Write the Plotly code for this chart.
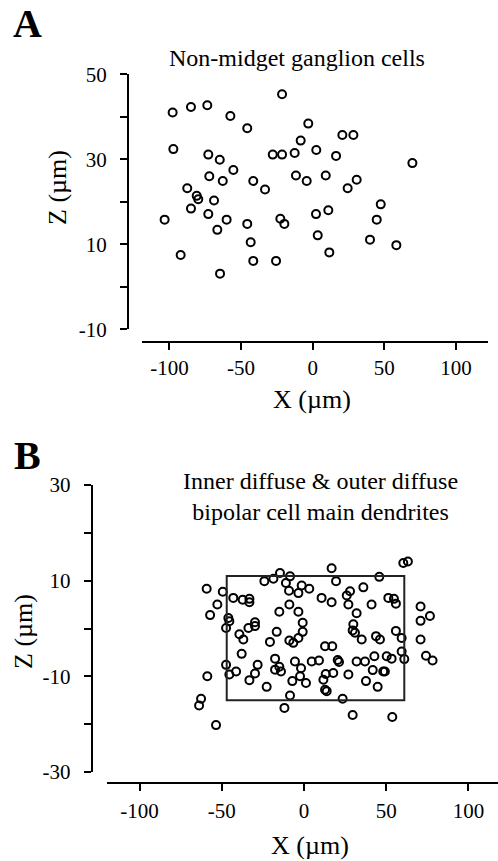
import plotly.graph_objects as go

W, H = 498, 861

# ---------------- Data ----------------
# Panel A: Non-midget ganglion cells
A_x = [-97.8, -85.0, -73.6, -57.5, -45.7, -21.4, -3.1, -8.4, 20.7, 28.4,
       -97.3, -72.9, -64.9, -55.4, -27.9, -21.4, -12.6, 2.5, 16.3, 69.6,
       -72.2, -62.8, -41.5, -33.3, -11.7, -4.2, 9.1, 24.4, 30.7,
       -87.6, -81.0, -79.9, -68.9, -85.0, -72.9, -103.4, -60.1, -66.6, -45.7,
       -22.6, -19.8, 2.3, 10.9, 47.5, 44.7, -43.3, 3.5, 40.0, 58.4,
       -92.2, 11.6, -41.5, -25.6, -64.7]
A_z = [41.0, 42.3, 42.7, 40.2, 37.3, 45.3, 38.4, 34.4, 35.7, 35.7,
       32.4, 31.1, 29.9, 27.5, 31.1, 31.1, 31.5, 32.2, 30.8, 29.1,
       26.0, 24.9, 24.9, 22.9, 26.2, 24.9, 26.2, 23.2, 25.2,
       23.2, 21.4, 20.6, 20.3, 18.4, 17.1, 15.8, 15.8, 13.4, 14.8,
       16.0, 14.8, 17.1, 18.0, 19.4, 15.8, 10.5, 12.1, 11.1, 9.8,
       7.5, 8.1, 6.1, 6.1, 3.1]

# Panel B: Inner diffuse & outer diffuse bipolar cell main dendrites
B_x = [60.4, 63.2, 16.8, -14.6, -8.5, -18.6, -24.1, 45.8, 19.5, -11.0,
       -1.4, 3.2, -9.1, -3.4, -59.2, -49.4, 36.1, 28.0, 26.0, 10.7,
       -43.0, -37.3, -33.2, -33.2, 16.8, 27.0, 41.1, 51.3, 54.7, 55.9,
       -52.7, -57.1, -8.9, -15.0, -3.4, 32.0, 70.9, 76.6, 70.9, -46.0,
       -45.4, -29.8, -29.8, -0.8, 30.0, 29.6, -47.4, -33.8, -16.6, -0.8,
       -39.3, -36.9, 55.9, 31.0, 43.8, 46.2, 35.1, 59.4, 70.9, -20.7,
       -8.9, -6.5, -3.4, 12.8, 17.2, -37.9, 59.4, 42.8, 50.3, 53.3,
       61.0, 74.2, 78.2, -17.6, -5.5, 4.7, 9.1, 20.5, 21.3, 32.0,
       37.1, -47.4, -28.2, -15.0, -17.6, -14.0, -1.8, -41.3, -45.4, -29.8,
       41.8, 48.2, 49.2, 13.2, 17.8, 27.0, -2.4, -58.8, -33.2, -7.1,
       1.2, 11.8, 37.7, -22.7, 12.8, 13.8, 44.8, -8.5, 23.5, -62.6,
       -63.8, -11.9, 29.6, 53.7, -53.5]
B_z = [13.7, 14.0, 12.6, 11.6, 10.9, 10.4, 9.9, 10.8, 9.9, 9.5,
       9.0, 8.3, 7.9, 7.4, 8.3, 7.7, 8.6, 7.8, 6.9, 6.4,
       6.4, 6.0, 6.2, 5.5, 5.5, 5.0, 5.0, 6.4, 6.2, 5.2,
       5.0, 2.8, 5.0, 3.5, 3.5, 3.2, 4.6, 2.6, 1.6, 2.2,
       1.5, 1.3, 0.5, 1.2, 0.9, -0.4, 0.1, 0.1, -0.7, -0.7,
       -1.2, -2.3, -0.5, -0.9, -1.6, -2.3, -2.3, -2.0, -2.3, -2.8,
       -2.5, -3.0, -2.0, -3.7, -3.7, -5.3, -4.8, -5.8, -5.8, -6.3,
       -6.4, -5.7, -6.7, -6.3, -6.9, -6.9, -6.7, -6.6, -7.0, -6.9,
       -6.9, -7.6, -7.6, -8.0, -8.6, -9.0, -8.3, -9.0, -9.6, -9.4,
       -8.7, -9.0, -9.0, -9.5, -9.3, -9.6, -10.0, -10.0, -10.8, -11.0,
       -11.4, -10.7, -11.0, -12.2, -12.8, -13.1, -12.2, -14.0, -14.7, -14.7,
       -16.1, -16.6, -18.1, -18.5, -20.2]

# Box outlining the sampled region in panel B (data units)
B_box_x = [-47, 61]
B_box_z = [-15, 11]

# Tick values / labels
X_ticks = [-100, -50, 0, 50, 100]
X_ticktext = ["-100", "-50", "0", "50", "100"]
A_yticks = [-10, 0, 10, 20, 30, 40, 50]
A_yticktext = ["-10", "", "10", "", "30", "", "50"]
B_yticks = [-30, -20, -10, 0, 10, 20, 30]
B_yticktext = ["-30", "", "-10", "", "10", "", "30"]

# ---------------- Figure ----------------
FONT = "Liberation Serif, Times New Roman, serif"

def px_x(p):
    return p / W

def px_y(p):
    return 1 - p / H

marker = dict(symbol="circle-open", size=8, color="black", line=dict(width=2, color="black"))

fig = go.Figure()
fig.add_trace(go.Scatter(x=A_x, y=A_z, mode="markers", marker=marker,
                         xaxis="x", yaxis="y", showlegend=False, cliponaxis=False))
fig.add_trace(go.Scatter(x=B_x, y=B_z, mode="markers", marker=marker,
                         xaxis="x2", yaxis="y2", showlegend=False, cliponaxis=False))

axis_common = dict(showgrid=False, zeroline=False, showline=True, linecolor="black",
                   linewidth=2, ticks="outside", ticklen=7, tickwidth=2, tickcolor="black",
                   automargin=False,
                   tickfont=dict(family=FONT, size=21, color="black"))

fig.update_layout(
    width=W, height=H, autosize=False,
    margin=dict(l=0, r=0, t=0, b=0, pad=0, autoexpand=False),
    paper_bgcolor="white", plot_bgcolor="white",
    xaxis=dict(axis_common, domain=[px_x(141.7), px_x(488.3)], range=[-119.4, 122.6],
               anchor="free", position=px_y(341.7), tickvals=X_ticks, ticktext=X_ticktext,
               ticklabelstandoff=0),
    yaxis=dict(axis_common, domain=[px_y(329.3), px_y(74.3)], range=[-10, 50],
               anchor="free", position=px_x(128), tickvals=A_yticks, ticktext=A_yticktext,
               ticklabelstandoff=9),
    xaxis2=dict(axis_common, domain=[px_x(106.7), 1.0], range=[-120, 118],
                anchor="free", position=px_y(783.3), tickvals=X_ticks, ticktext=X_ticktext,
                ticklabelstandoff=1),
    yaxis2=dict(axis_common, domain=[px_y(772), px_y(485)], range=[-30, 30],
                anchor="free", position=px_x(91.7), tickvals=B_yticks, ticktext=B_yticktext,
                ticklabelstandoff=9),
)

fig.add_shape(type="rect", xref="x2", yref="y2",
              x0=B_box_x[0], x1=B_box_x[1], y0=B_box_z[0], y1=B_box_z[1],
              line=dict(color="#222222", width=2), fillcolor="rgba(0,0,0,0)")

def ann(text, x, y, size, bold=False, angle=0):
    fig.add_annotation(text=f"<b>{text}</b>" if bold else text,
                       x=px_x(x), y=px_y(y), xref="paper", yref="paper",
                       xanchor="center", yanchor="middle", showarrow=False,
                       textangle=angle, font=dict(family=FONT, size=size, color="black"))

ann("A", 27, 24, 40, bold=True)
ann("B", 27, 455, 40, bold=True)
ann("Non-midget ganglion cells", 297, 58, 24)
ann("Inner diffuse &amp; outer diffuse<br>bipolar cell main dendrites", 320, 496, 24)
ann("Z (µm)", 58, 188, 26, angle=-90)
ann("X (µm)", 312, 400, 26)
ann("Z (µm)", 23, 632, 26, angle=-90)
ann("X (µm)", 310, 845, 26)

fig.write_html("out.html", config={"responsive": False, "displayModeBar": False},
               post_script="document.body.style.margin='0px';document.body.style.overflow='hidden';")
